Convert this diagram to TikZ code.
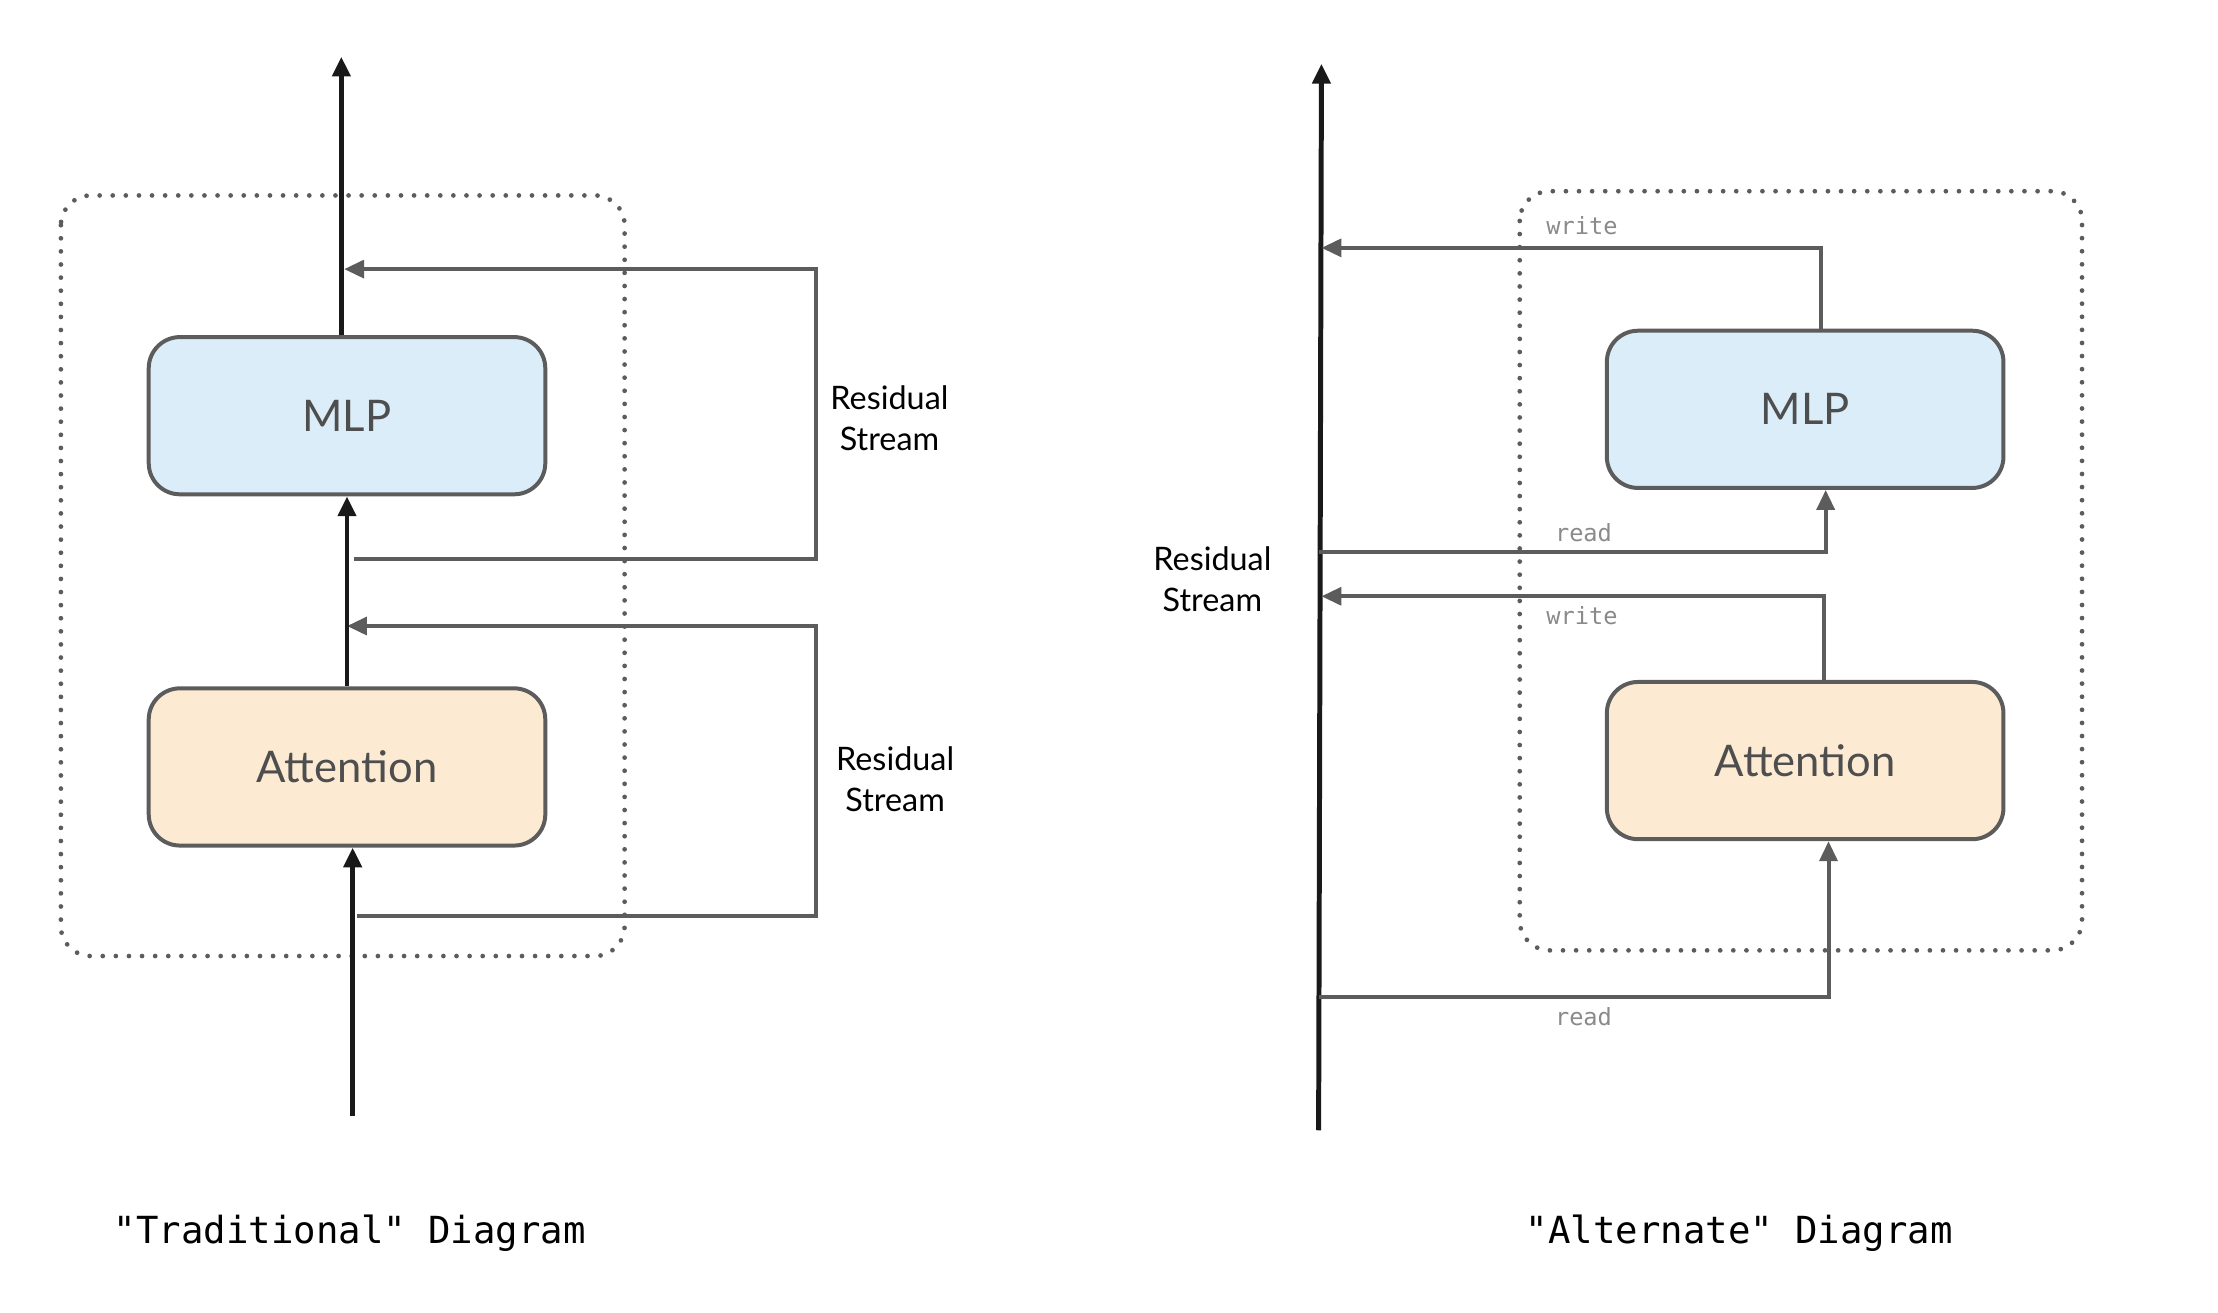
\documentclass[tikz,border=0pt]{standalone}
\usepackage{fontspec}
\setmainfont{Lato}
\newfontfamily\codefont{DejaVu Sans Mono}
\usetikzlibrary{arrows.meta}

\definecolor{mlpblue}{HTML}{DBEDF8}
\definecolor{attnorange}{HTML}{FCEBD2}
\definecolor{edgegray}{HTML}{5C5C5C}
\definecolor{notegray}{HTML}{8A8A8A}

\begin{document}
\begin{tikzpicture}[x=0.2mm, y=-0.2mm,
	block/.style={draw=edgegray, line width=1.6pt, rounded corners=4.4mm,
		minimum width=56mm, minimum height=22.2mm,
		font=\fontsize{17.5}{20}\selectfont, text=edgegray!85!black},
	main/.style={line width=2pt, black!90, -{Triangle[length=2.8mm,width=2.5mm]}},
	res/.style={line width=1.6pt, edgegray, -{Triangle[length=2.8mm,width=2.5mm]}},
	layer/.style={draw=edgegray, line width=1.9pt, dash pattern=on 0pt off 1.85mm,
		line cap=round, rounded corners=4.2mm},
	note/.style={font=\fontsize{13}{16.5}\selectfont, align=center},
	rw/.style={font=\codefont\fontsize{9.5}{11}\selectfont, text=notegray},
	title/.style={font=\codefont\fontsize{15}{18}\selectfont}]

	\useasboundingbox (0,0) rectangle (1566,926.5);

	% traditional
	\draw[layer] (43,138) rectangle (441,675);

	\coordinate (out) at (241,40);
	\coordinate (in) at (249,788);
	\coordinate (r1s) at (250,395);
	\coordinate (r1c) at (576,190);
	\coordinate (r1e) at (243,190);
	\coordinate (r2s) at (252,647);
	\coordinate (r2c) at (576,442);
	\coordinate (r2e) at (245,442);

	\draw[res] (r1s) -| (r1c) -- (r1e);
	\draw[res] (r2s) -| (r2c) -- (r2e);

	\node[block, fill=mlpblue] (mlp) at (245,293.5) {MLP};
	\node[block, fill=attnorange] (att) at (245,541.5) {Attention};

	\draw[main] (mlp.north -| out) -- (out);
	\draw[main] (att) -- (mlp);
	\draw[main] (in) -- (in |- att.south);

	\node[note] (lbl1) at (628,295) {Residual\\Stream};
	\node[note] (lbl2) at (632,550) {Residual\\Stream};
	\node[title] (t1) at (247,871) {"Traditional" Diagram};

	% alternate
	\draw[layer] (1073,135) rectangle (1470,671);

	\coordinate (sb) at (931,798);
	\coordinate (st) at (933,45);
	\coordinate (w1k) at (1286,175);
	\coordinate (w1e) at (933,175);
	\coordinate (rd1s) at (931,390);
	\coordinate (rd1k) at (1289,390);
	\coordinate (w2k) at (1288,421);
	\coordinate (w2e) at (933,421);
	\coordinate (rd2s) at (931,704);
	\coordinate (rd2k) at (1291,704);

	\node[block, fill=mlpblue] (mlp2) at (1274.5,289) {MLP};
	\node[block, fill=attnorange] (att2) at (1274.5,537) {Attention};

	\draw[main] (sb) -- (st);
	\draw[res] (mlp2.north -| w1k) -- (w1k) -- (w1e);
	\draw[res] (rd1s) -- (rd1k) -- (rd1k |- mlp2.south);
	\draw[res] (att2.north -| w2k) -- (w2k) -- (w2e);
	\draw[res] (rd2s) -- (rd2k) -- (rd2k |- att2.south);

	\node[rw] (wr1) at (1117,159) {write};
	\node[rw] (rd1) at (1118,376) {read};
	\node[rw] (wr2) at (1117,435) {write};
	\node[rw] (rd2) at (1118,718) {read};
	\node[note] (lbl3) at (856,409) {Residual\\Stream};
	\node[title] (t2) at (1228,871) {"Alternate" Diagram};

\end{tikzpicture}
\end{document}
